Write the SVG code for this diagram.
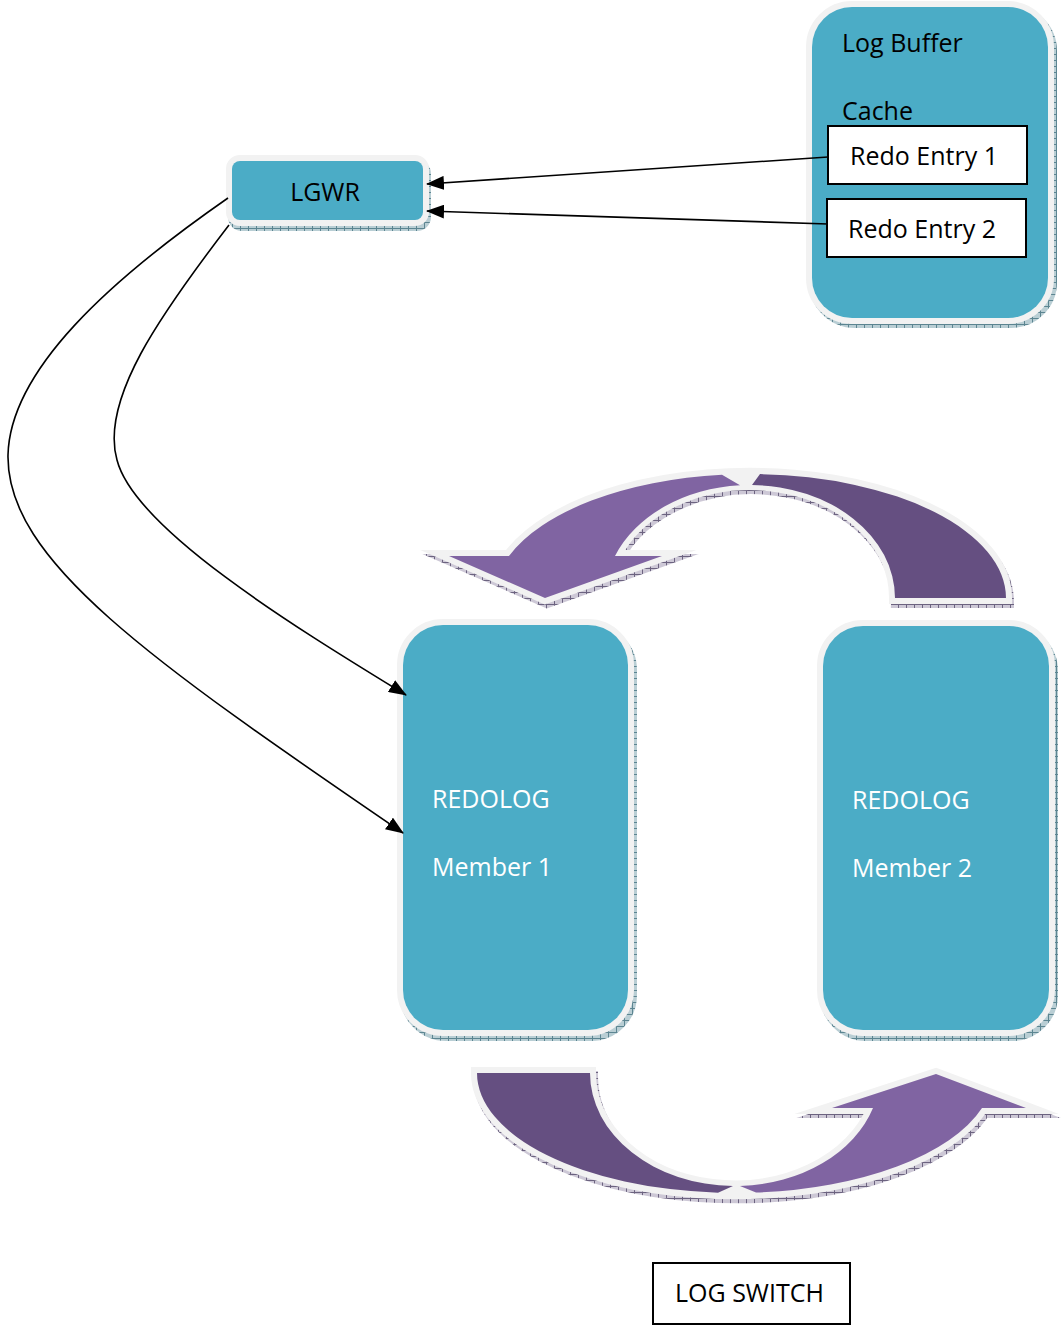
<svg xmlns="http://www.w3.org/2000/svg" width="1061" height="1325" viewBox="0 0 1061 1325">
<defs>
<style>
.t{font-family:"Open Sans","Liberation Sans",sans-serif;font-size:25px;fill:#000}
.w{fill:#FFFFFF}
.teal{fill:#4BACC6;stroke:#F2F2F2;stroke-width:12;paint-order:stroke}
.tsh{fill:url(#hatchT);stroke:url(#hatchT);stroke-width:12}
.psh{fill:url(#hatchP);stroke:url(#hatchP);stroke-width:12;stroke-miterlimit:10}
.ol{fill:#F2F2F2;stroke:#F2F2F2;stroke-width:12;stroke-miterlimit:10}
.dark{fill:#654F81}
.light{fill:#8064A2}
.box{fill:#FFFFFF;stroke:#000;stroke-width:2}
.conn{fill:none;stroke:#000;stroke-width:1.6;marker-end:url(#ah)}
</style>
<pattern id="hatchT" patternUnits="userSpaceOnUse" width="8" height="6">
<rect width="8" height="6" fill="#b9ced4"/>
<path d="M0,0.5H8M0.5,0V6" stroke="#5c8591" stroke-width="1"/>
</pattern>
<pattern id="hatchP" patternUnits="userSpaceOnUse" width="8" height="6">
<rect width="8" height="6" fill="#cdc8d6"/>
<path d="M0,0.5H8M0.5,0V6" stroke="#6c6380" stroke-width="1"/>
</pattern>
<marker id="ah" markerUnits="userSpaceOnUse" markerWidth="18" markerHeight="14" refX="17" refY="7" orient="auto">
<path d="M0,0 L18,7 L0,14 z" fill="#000"/>
</marker>
<path id="topRing" d="M509,556 A256,124 0 0 1 1006,598 L895,598 A145,113 0 0 0 615,556 L662,556 L545,598 L449,556 Z"/>
<path id="botRing" d="M477,1073 A258,120 0 0 0 982,1108 L1026,1108 L936,1074 L832,1108 L873,1108 A145,113 0 0 1 590,1073 Z"/>
</defs>
<rect width="1061" height="1325" fill="#FFFFFF"/>

<g id="top-switch-arrow">
<use href="#topRing" class="psh" transform="translate(2,4)"/>
<use href="#topRing" class="ol"/>
<path class="dark" d="M760,474.1 A256,124 0 0 1 1006,598 L895,598 A145,113 0 0 0 752,485 Z"/>
<path class="light" d="M722,474.8 A256,124 0 0 0 509,556 L449,556 L545,598 L662,556 L615,556 A145,113 0 0 1 740,485.3 Z"/>
</g>

<g id="bottom-switch-arrow">
<use href="#botRing" class="psh" transform="translate(2,4)"/>
<use href="#botRing" class="ol"/>
<path class="dark" d="M477,1073 A258,120 0 0 0 718,1192.7 L733,1186 A145,113 0 0 1 590,1073 Z"/>
<path class="light" d="M756,1192.6 A258,120 0 0 0 982,1108 L1026,1108 L936,1074 L832,1108 L873,1108 A145,113 0 0 1 740,1186 Z"/>
</g>

<g id="log-buffer">
<rect class="tsh" x="815" y="11" width="236" height="311" rx="40"/>
<rect class="teal" x="812" y="7" width="236" height="311" rx="40"/>
<text class="t" x="842" y="52">Log Buffer</text>
<text class="t" x="842" y="120">Cache</text>
</g>
<g id="redo-entry-1">
<rect class="box" x="828" y="126" width="199" height="58"/>
<text class="t" x="850" y="165">Redo Entry 1</text>
</g>
<g id="redo-entry-2">
<rect class="box" x="827" y="199" width="199" height="58"/>
<text class="t" x="848" y="238">Redo Entry 2</text>
</g>

<g id="lgwr">
<rect class="tsh" x="234" y="166" width="191" height="59" rx="8"/>
<rect class="teal" x="232" y="161" width="191" height="59" rx="8"/>
<text class="t" x="325" y="201" text-anchor="middle">LGWR</text>
</g>

<g id="redolog-member-1">
<rect class="tsh" x="406" y="630" width="225" height="405" rx="40"/>
<rect class="teal" x="403" y="625" width="225" height="405" rx="40"/>
<text class="t w" x="432" y="808">REDOLOG</text>
<text class="t w" x="432" y="876">Member 1</text>
</g>

<g id="redolog-member-2">
<rect class="tsh" x="826" y="631" width="226" height="404" rx="40"/>
<rect class="teal" x="823" y="626" width="226" height="404" rx="40"/>
<text class="t w" x="852" y="809">REDOLOG</text>
<text class="t w" x="852" y="877">Member 2</text>
</g>

<g id="log-switch">
<rect x="653" y="1263" width="197" height="61" fill="#FFFFFF" stroke="#000" stroke-width="2"/>
<text class="t" x="675" y="1302">LOG SWITCH</text>
</g>

<g id="connectors">
<path class="conn" d="M828,157 L427,184"/>
<path class="conn" d="M828,224 L427,211"/>
<path class="conn" d="M228,198 C110,280 10,370 8,455 C6,560 150,660 403,833"/>
<path class="conn" d="M229,225 C160,315 100,400 117,460 C135,530 300,630 406,695"/>
</g>
</svg>
